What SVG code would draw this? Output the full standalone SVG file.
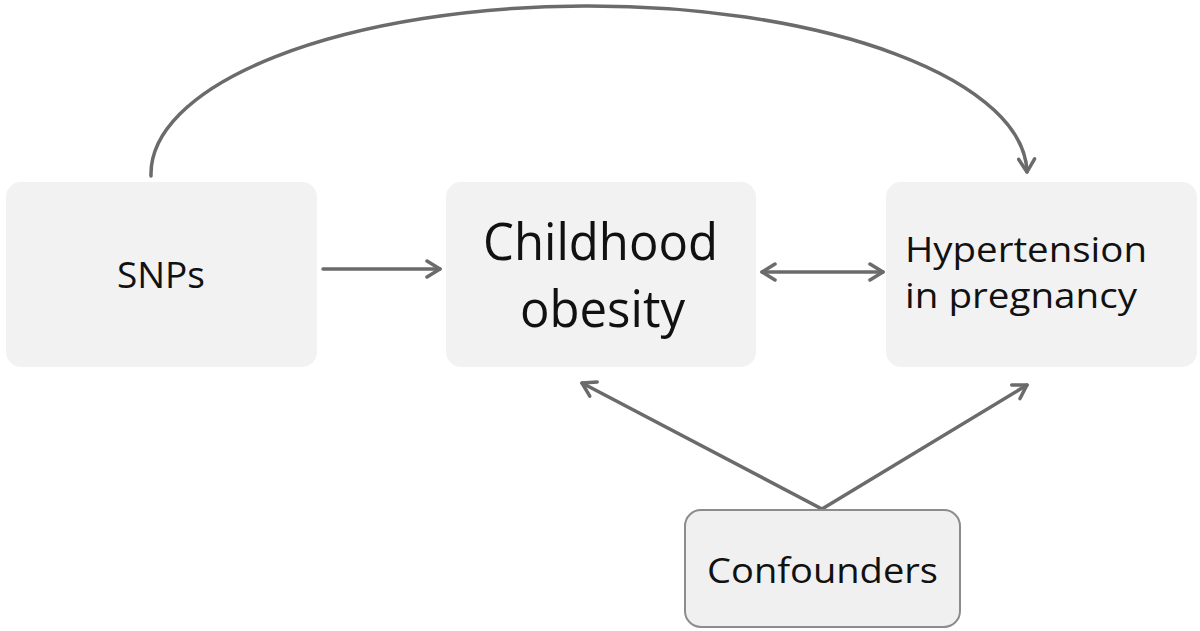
<svg xmlns="http://www.w3.org/2000/svg" width="1200" height="631" viewBox="0 0 1200 631">
<defs>
<marker id="ah" viewBox="0 0 20 20" refX="17" refY="10" markerWidth="20" markerHeight="20" markerUnits="userSpaceOnUse" orient="auto-start-reverse">
<path d="M4,2 L17,10 L4,18" fill="none" stroke="#6b6b6b" stroke-width="3.5" stroke-linecap="round" stroke-linejoin="round"/>
</marker>
<style>
.box{fill:#f2f2f2;stroke:none}
.cbox{fill:#f0f0f0;stroke:#8c8c8c;stroke-width:2}
.t{font-family:"Open Sans","Noto Sans","Liberation Sans",sans-serif;fill:#111}
.c{fill:none;stroke:#6b6b6b;stroke-width:3.5;stroke-linecap:round}
</style>
</defs>
<rect width="1200" height="631" fill="#ffffff"/>
<g id="connectors">
<path class="c" d="M151,176 A438 168 0 0 1 1027,172" marker-end="url(#ah)"/>
<line class="c" x1="323" y1="269" x2="440" y2="269" marker-end="url(#ah)"/>
<line class="c" x1="762" y1="272" x2="883" y2="272" marker-start="url(#ah)" marker-end="url(#ah)"/>
<line class="c" x1="822" y1="509" x2="582" y2="383" marker-end="url(#ah)"/>
<line class="c" x1="822" y1="509" x2="1027" y2="385" marker-end="url(#ah)"/>
</g>
<g id="snps">
<rect class="box" x="6" y="182" width="311" height="185" rx="15"/>
<text class="t" x="117" y="288" font-size="37" textLength="88" lengthAdjust="spacingAndGlyphs">SNPs</text>
</g>
<g id="childhood">
<rect class="box" x="446" y="182" width="310" height="185" rx="15"/>
<text class="t" x="483" y="260" font-size="52" textLength="235" lengthAdjust="spacingAndGlyphs">Childhood</text>
<text class="t" x="520" y="327" font-size="52" textLength="165" lengthAdjust="spacingAndGlyphs">obesity</text>
</g>
<g id="hypertension">
<rect class="box" x="886" y="182" width="311" height="185" rx="15"/>
<text class="t" x="905" y="262" font-size="35" textLength="242" lengthAdjust="spacingAndGlyphs">Hypertension</text>
<text class="t" x="905" y="308" font-size="35" textLength="232" lengthAdjust="spacingAndGlyphs">in pregnancy</text>
</g>
<g id="confounders">
<rect class="cbox" x="685" y="510" width="275" height="117" rx="16"/>
<text class="t" x="707" y="583" font-size="35" textLength="231" lengthAdjust="spacingAndGlyphs">Confounders</text>
</g>
</svg>
